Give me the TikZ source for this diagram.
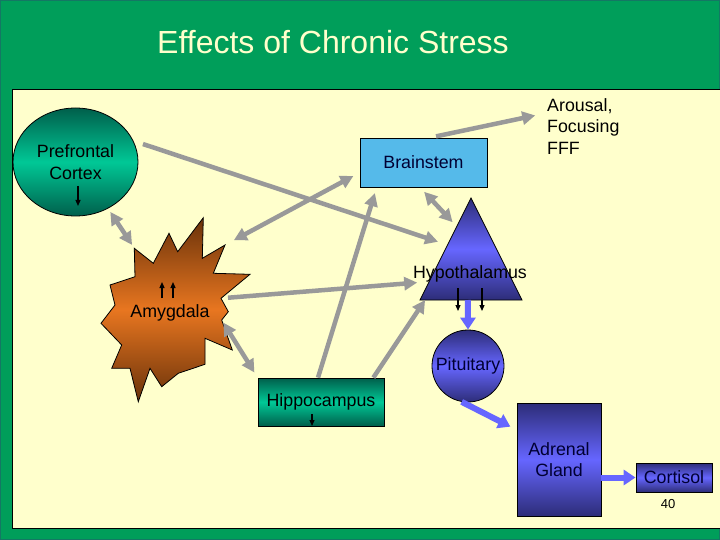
\documentclass[tikz,border=0pt]{standalone}
\usepackage{fontspec}
\setmainfont{Liberation Sans}
\usetikzlibrary{arrows.meta,shapes.geometric,calc}

\definecolor{slidegreen}{RGB}{0,158,90}
\definecolor{slideedge}{RGB}{20,120,100}
\definecolor{paper}{RGB}{255,255,204}
\definecolor{linkgray}{RGB}{153,153,153}
\definecolor{tealdark}{RGB}{0,95,75}
\definecolor{tealbright}{RGB}{0,200,150}
\definecolor{bluedark}{RGB}{45,45,120}
\definecolor{bluebright}{RGB}{102,102,255}
\definecolor{orangedark}{RGB}{105,50,10}
\definecolor{orangebright}{RGB}{232,118,32}
\definecolor{skyblue}{RGB}{85,186,234}
\definecolor{inknavy}{RGB}{0,0,51}

\begin{document}
\begin{tikzpicture}[x=1pt,y=-1pt,
			label font/.style={font=\fontsize{17.8}{21.5}\selectfont},
			teal node/.style={draw,line width=0.8pt,label font,inner sep=0pt,top color=tealdark,bottom color=tealdark,middle color=tealbright},
			blue node/.style={draw,line width=0.8pt,label font,inner sep=0pt,text=inknavy,top color=bluedark,bottom color=bluedark,middle color=bluebright},
			gray arrow/.style={draw=linkgray,line width=4.5pt,-{Triangle[length=13pt,width=13pt]}},
			gray both/.style={gray arrow,{Triangle[length=13pt,width=13pt]}-{Triangle[length=13pt,width=13pt]}},
			blue arrow/.style={draw=bluebright,line width=6pt,-{Triangle[length=12pt,width=15pt]}},
			tiny arrow/.style={line width=1.2pt,-{Triangle[length=6pt,width=5pt]}}
			]
			
			\useasboundingbox (0,0) rectangle (720,540);
			\fill[slidegreen] (0,0) rectangle (720,540);
			\draw[slideedge,line width=2pt] (0,0) rectangle (720,540);
			\draw[fill=paper,line width=1pt] (12,90) rectangle (725,528);
			
			\node[font=\fontsize{32}{38}\selectfont,text=paper] (title) at (333,42) {Effects of Chronic Stress};
			
			% amygdala burst
			\foreach \x/\y [count=\i] in {134.3/248.3,153.3/263.3,169/233.3,177.7/251.7,203.3/217.7,
				202.3/258.3,225/245,213.3/273.3,250/274.3,221/298.3,228.3/311.7,221.7/320,232.3/350,
				205/338.3,205/364.3,178.3/373.3,161.7/386.7,150/368.3,138.3/401.7,130/368.3,
				111.7/368.3,121.7/345,101/323.3,115/305,110/285,135/276.7} {
				\coordinate (amy\i) at (\x,\y);
			}
			\path[draw,line width=0.8pt,top color=orangedark,bottom color=orangedark,middle color=orangebright]
				(amy1) \foreach \i in {2,...,26} {-- (amy\i)} -- cycle;
			\node[label font] (amy) at (170,313) {Amygdala};
			
			% hypothalamus triangle
			\coordinate (hyp apex) at (471,198);
			\coordinate (hyp bl) at (420,300);
			\coordinate (hyp br) at (522,300);
			\coordinate (hyp base) at ($(hyp bl)!0.47!(hyp br)$);
			\path[draw,line width=0.8pt,top color=bluedark,bottom color=bluedark,middle color=bluebright]
				(hyp apex) -- (hyp bl) -- (hyp br) -- cycle;
			\node[label font,inner sep=0pt] (hyp) at (470,274) {Hypothalamus};
			
			\node[teal node,ellipse,minimum width=125pt,minimum height=108pt,align=center] (pfc) at (75.5,162) {Prefrontal\\Cortex};
			\node[draw,line width=0.8pt,fill=skyblue,label font,text=inknavy,minimum width=127pt,minimum height=49pt] (brain) at (423.5,162.5) {Brainstem};
			\node[label font,align=left,anchor=north west,inner sep=0pt] (arousal) at (547,98) {Arousal,\\Focusing\\FFF};
			\node[teal node,minimum width=126pt,minimum height=48pt] (hippo) at (321,402) {Hippocampus};
			\node[blue node,circle,minimum size=72pt] (pit) at (468,366) {Pituitary};
			\node[blue node,minimum width=84pt,minimum height=113pt,align=center] (adrenal) at (559,459.5) {Adrenal\\Gland};
			\node[blue node,minimum width=76pt,minimum height=29pt] (cort) at (674,477.5) {Cortisol};
			\node[font=\fontsize{13}{15}\selectfont] (page) at (668,504) {40};
			
			% up / down marks
			\draw[tiny arrow] ($(pfc.center)+(2.5,24)$) -- ($(pfc.center)+(2.5,44)$);
			\draw[tiny arrow] ($(amy)+(-8,-15)$) -- ($(amy)+(-8,-31)$);
			\draw[tiny arrow] ($(amy)+(3,-15)$) -- ($(amy)+(3,-31)$);
			\draw[tiny arrow] ($(hyp)+(-12,14)$) -- ($(hyp)+(-12,37)$);
			\draw[tiny arrow] ($(hyp)+(12,14)$) -- ($(hyp)+(12,37)$);
			\draw[tiny arrow] ($(hippo)+(-9,12)$) -- ($(hippo)+(-9,24)$);
			
			\draw[gray both,shorten <=4pt,shorten >=4pt] (pfc.-55) -- (amy1);
			\draw[gray arrow,shorten <=10pt,shorten >=10pt] (pfc.20) -- ($(hyp apex)!0.46!(hyp bl)$);
			\draw[gray both,shorten <=10pt,shorten >=7pt] (amy7) -- (brain.189);
			\draw[gray arrow,shorten <=7pt,shorten >=12pt] (amy10) -- ($(hyp apex)!0.82!(hyp bl)$);
			\draw[gray both,shorten <=3pt,shorten >=6pt] (amy12) -- (hippo.north west);
			\draw[gray arrow,shorten >=6pt] (hippo.97) -- (brain.208);
			\draw[gray arrow] (hippo.25) -- ($(hyp bl)!0.05!(hyp br)$);
			\draw[gray both,shorten <=6pt,shorten >=6pt] (brain.262) -- ($(hyp apex)!0.28!(hyp bl)$);
			\draw[gray arrow,shorten <=6pt,shorten >=12pt] (brain.75) -- (arousal.160);
			
			\draw[blue arrow] (hyp base) -- (pit.north);
			\draw[blue arrow,shorten >=7pt] (pit.-100) -- (adrenal.145);
			\draw[blue arrow] (cort.west -| adrenal.east) -- (cort.west);
			\end{tikzpicture}
\end{document}
